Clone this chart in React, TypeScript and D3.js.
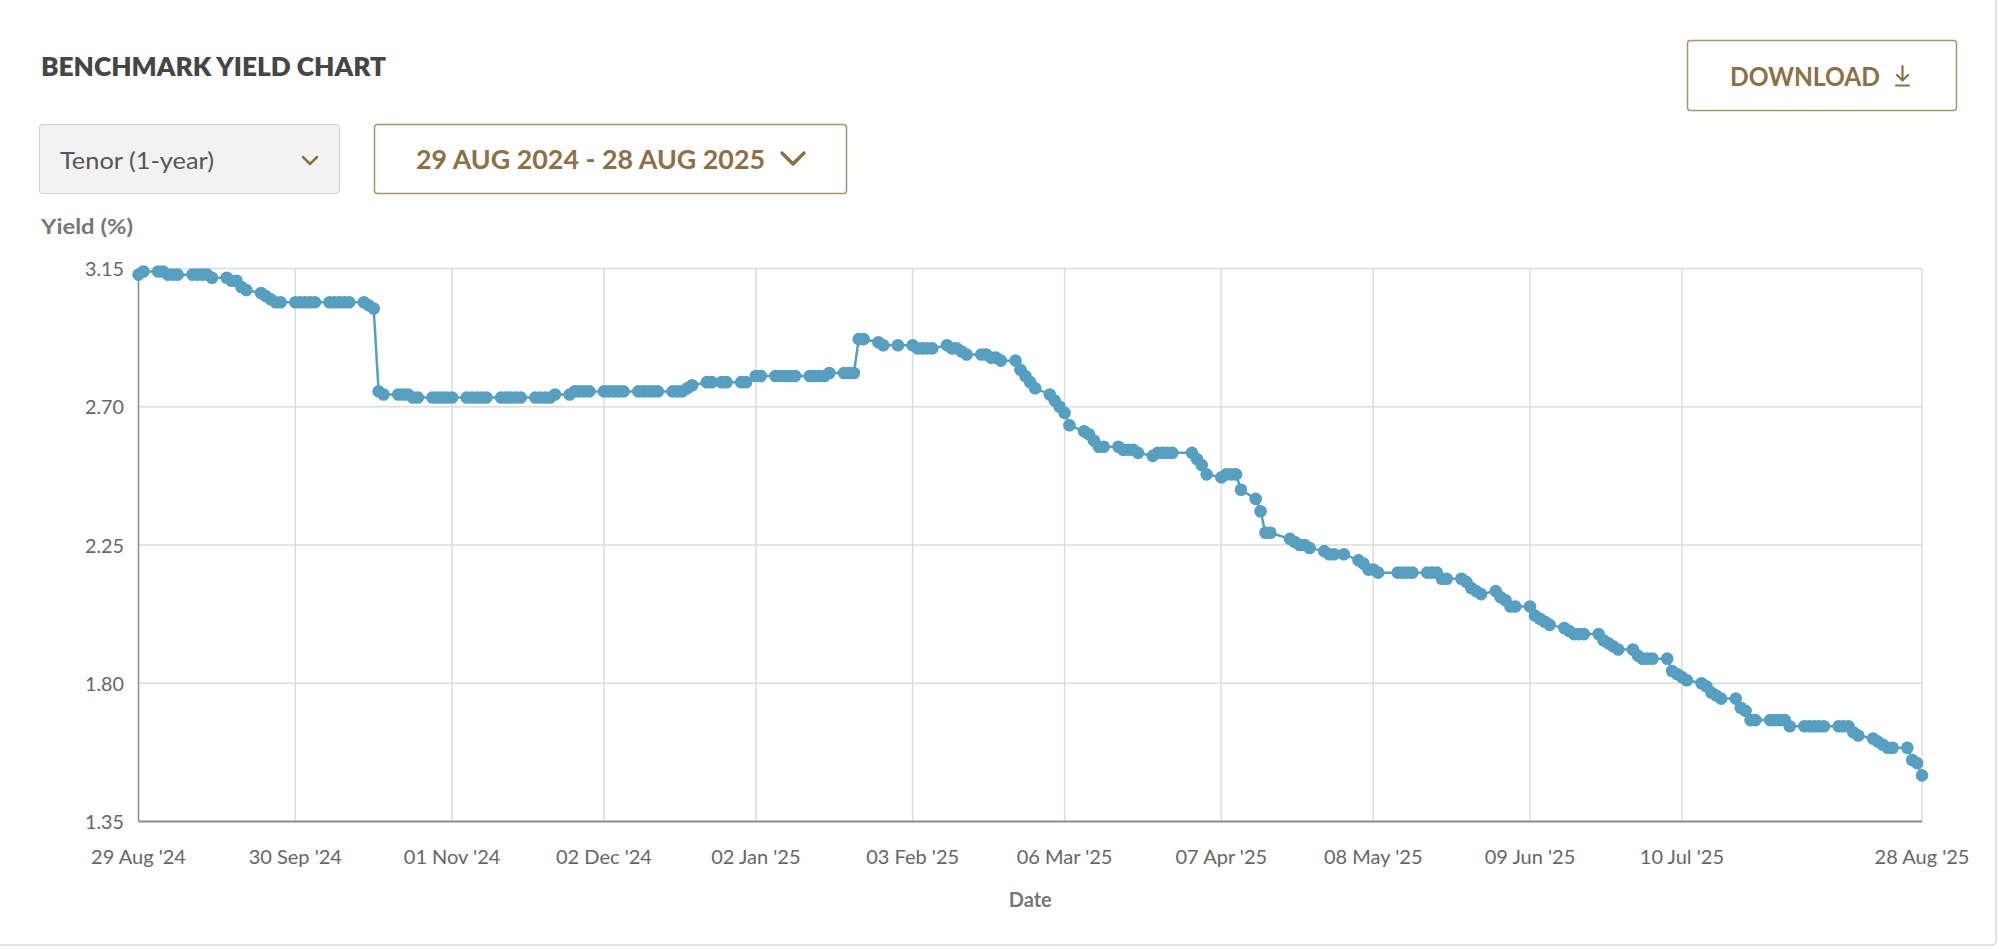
import React, { useRef, useEffect } from 'react';
import * as d3 from 'd3';

// Monday of each week, and that week's Mon..Fri yields (null = no fixing)
const weekStarts = [
  '2024-08-26', '2024-09-02', '2024-09-09', '2024-09-16', '2024-09-23', '2024-09-30',
  '2024-10-07', '2024-10-14', '2024-10-21', '2024-10-28', '2024-11-04', '2024-11-11',
  '2024-11-18', '2024-11-25', '2024-12-02', '2024-12-09', '2024-12-16', '2024-12-23',
  '2024-12-30', '2025-01-06', '2025-01-13', '2025-01-20', '2025-01-27', '2025-02-03',
  '2025-02-10', '2025-02-17', '2025-02-24', '2025-03-03', '2025-03-10', '2025-03-17',
  '2025-03-24', '2025-03-31', '2025-04-07', '2025-04-14', '2025-04-21', '2025-04-28',
  '2025-05-05', '2025-05-12', '2025-05-19', '2025-05-26', '2025-06-02', '2025-06-09',
  '2025-06-16', '2025-06-23', '2025-06-30', '2025-07-07', '2025-07-14', '2025-07-21',
  '2025-07-28', '2025-08-04', '2025-08-11', '2025-08-18', '2025-08-25',
];

const weeklyYields: (number | null)[][] = [
  [null, null, null, 3.13, 3.14],
  [3.14, 3.14, 3.13, 3.13, 3.13],
  [3.13, 3.13, 3.13, 3.13, 3.12],
  [3.12, 3.11, 3.11, 3.09, 3.08],
  [3.07, 3.06, 3.05, 3.04, 3.04],
  [3.04, 3.04, 3.04, 3.04, 3.04],
  [3.04, 3.04, 3.04, 3.04, 3.04],
  [3.04, 3.03, 3.02, 2.75, 2.74],
  [2.74, 2.74, 2.74, 2.73, 2.73],
  [2.73, 2.73, 2.73, 2.73, 2.73],
  [2.73, 2.73, 2.73, 2.73, 2.73],
  [2.73, 2.73, 2.73, 2.73, 2.73],
  [2.73, 2.73, 2.73, 2.73, 2.74],
  [2.74, 2.75, 2.75, 2.75, 2.75],
  [2.75, 2.75, 2.75, 2.75, 2.75],
  [2.75, 2.75, 2.75, 2.75, 2.75],
  [2.75, 2.75, 2.75, 2.76, 2.77],
  [2.78, 2.78, null, 2.78, 2.78],
  [2.78, 2.78, null, 2.80, 2.80],
  [2.80, 2.80, 2.80, 2.80, 2.80],
  [2.80, 2.80, 2.80, 2.80, 2.81],
  [2.81, 2.81, 2.81, 2.92, 2.92],
  [2.91, 2.90, null, null, 2.90],
  [2.90, 2.89, 2.89, 2.89, 2.89],
  [2.90, 2.89, 2.89, 2.88, 2.87],
  [2.87, 2.87, 2.86, 2.86, 2.85],
  [2.85, 2.82, 2.80, 2.78, 2.76],
  [2.74, 2.72, 2.70, 2.68, 2.64],
  [2.62, 2.61, 2.59, 2.57, 2.57],
  [2.57, 2.56, 2.56, 2.56, 2.55],
  [2.54, 2.55, 2.55, 2.55, 2.55],
  [null, 2.55, 2.53, 2.51, 2.48],
  [2.47, 2.48, 2.48, 2.48, 2.43],
  [2.40, 2.36, 2.29, 2.29, null],
  [2.27, 2.26, 2.25, 2.25, 2.24],
  [2.23, 2.22, 2.22, null, 2.22],
  [2.20, 2.19, 2.17, 2.17, 2.16],
  [null, 2.16, 2.16, 2.16, 2.16],
  [2.16, 2.16, 2.16, 2.14, 2.14],
  [2.14, 2.13, 2.11, 2.10, 2.09],
  [2.10, 2.08, 2.07, 2.05, 2.05],
  [2.05, 2.02, 2.01, 2.00, 1.99],
  [1.98, 1.97, 1.96, 1.96, 1.96],
  [1.96, 1.94, 1.93, 1.92, 1.91],
  [1.91, 1.89, 1.88, 1.88, 1.88],
  [1.88, 1.84, 1.83, 1.82, 1.81],
  [1.80, 1.79, 1.77, 1.76, 1.75],
  [1.75, 1.72, 1.71, 1.68, 1.68],
  [1.68, 1.68, 1.68, 1.68, 1.66],
  [1.66, 1.66, 1.66, 1.66, 1.66],
  [1.66, 1.66, 1.66, 1.64, 1.63],
  [1.62, 1.61, 1.60, 1.59, 1.59],
  [1.59, 1.55, 1.54, 1.50, null],
];

const xTickDates = [
  '2024-08-29', '2024-09-30', '2024-11-01', '2024-12-02', '2025-01-02', '2025-02-03',
  '2025-03-06', '2025-04-07', '2025-05-08', '2025-06-09', '2025-07-10', '2025-08-28',
];
const yTicks = [1.35, 1.8, 2.25, 2.7, 3.15];

const dateRangeLabel = '29 AUG 2024 - 28 AUG 2025';
const tenorLabel = 'Tenor (1-year)';

const FONT = 'Lato, "Source Sans Pro", sans-serif';
const BROWN = '#8b7048';
const BLUE = '#569fc0';

export default function App() {
  const width = 1999;
  const height = 949;
  const svgRef = useRef<SVGSVGElement>(null);

  useEffect(() => {
    if (!svgRef.current) return;
    const svg = d3.select(svgRef.current);
    svg.selectAll('*').remove();

    const parse = d3.timeParse('%Y-%m-%d');
    const points: { date: Date; value: number }[] = [];
    weekStarts.forEach((w, i) => {
      const monday = parse(w) as Date;
      weeklyYields[i].forEach((v, j) => {
        if (v != null) points.push({ date: d3.timeDay.offset(monday, j), value: v });
      });
    });
    const ticks = xTickDates.map((d) => parse(d) as Date);

    const left = 138.5, right = 1922, top = 268.5, bottom = 821.5;
    const x = d3.scaleTime().domain([ticks[0], ticks[ticks.length - 1]]).range([left, right]);
    const y = d3.scaleLinear().domain([1.35, 3.15]).range([bottom, top]);

    // card border
    svg.append('rect')
      .attr('x', -10).attr('y', -10).attr('width', 2006).attr('height', 955)
      .attr('rx', 4).attr('fill', 'white').attr('stroke', '#e3e3e3').attr('stroke-width', 2);

    // header
    svg.append('text')
      .attr('x', 41).attr('y', 76)
      .attr('font-family', FONT).attr('font-weight', 800).attr('font-size', 26.5)
      .attr('fill', '#454545')
      .attr('textLength', 345).attr('lengthAdjust', 'spacingAndGlyphs')
      .text('BENCHMARK YIELD CHART');

    // tenor select
    svg.append('rect')
      .attr('x', 39.5).attr('y', 124.5).attr('width', 300).attr('height', 69)
      .attr('rx', 3).attr('fill', '#f2f2f2').attr('stroke', '#cfcfcf');
    svg.append('text')
      .attr('x', 60).attr('y', 169)
      .attr('font-family', FONT).attr('font-size', 24).attr('fill', '#555')
      .attr('textLength', 154).attr('lengthAdjust', 'spacingAndGlyphs')
      .text(tenorLabel);
    svg.append('path')
      .attr('d', 'M303,157 L310,164 L317,157')
      .attr('fill', 'none').attr('stroke', BROWN).attr('stroke-width', 2.5)
      .attr('stroke-linecap', 'round').attr('stroke-linejoin', 'round');

    // date range select
    svg.append('rect')
      .attr('x', 374.5).attr('y', 124.5).attr('width', 472).attr('height', 69)
      .attr('rx', 3).attr('fill', 'white').attr('stroke', '#a8946f').attr('stroke-width', 1.5);
    svg.append('text')
      .attr('x', 416).attr('y', 169)
      .attr('font-family', FONT).attr('font-weight', 700).attr('font-size', 26.5)
      .attr('fill', BROWN)
      .attr('textLength', 349).attr('lengthAdjust', 'spacingAndGlyphs')
      .text(dateRangeLabel);
    svg.append('path')
      .attr('d', 'M782,153 L793,164 L804,153')
      .attr('fill', 'none').attr('stroke', BROWN).attr('stroke-width', 3.5)
      .attr('stroke-linecap', 'round').attr('stroke-linejoin', 'round');

    // download button
    svg.append('rect')
      .attr('x', 1687.5).attr('y', 40.5).attr('width', 269).attr('height', 70)
      .attr('rx', 3).attr('fill', 'white').attr('stroke', '#a8946f').attr('stroke-width', 1.5);
    svg.append('text')
      .attr('x', 1730).attr('y', 86)
      .attr('font-family', FONT).attr('font-weight', 700).attr('font-size', 26.5)
      .attr('fill', BROWN)
      .attr('textLength', 150).attr('lengthAdjust', 'spacingAndGlyphs')
      .text('DOWNLOAD');
    svg.append('path')
      .attr('d', 'M1902.5,66 L1902.5,80 M1897,75 L1902.5,80.5 L1908,75 M1896,85.5 L1909,85.5')
      .attr('fill', 'none').attr('stroke', BROWN).attr('stroke-width', 2.2)
      .attr('stroke-linecap', 'round').attr('stroke-linejoin', 'round');

    // grid
    const grid = svg.append('g');
    grid.selectAll('line.v')
      .data(ticks.slice(1))
      .enter().append('line')
      .attr('x1', (d) => x(d)).attr('x2', (d) => x(d))
      .attr('y1', top).attr('y2', bottom)
      .attr('stroke', '#dcdcdc').attr('stroke-width', 1.5);
    grid.selectAll('line.h')
      .data(yTicks.slice(1))
      .enter().append('line')
      .attr('x1', left).attr('x2', right)
      .attr('y1', (d) => y(d)).attr('y2', (d) => y(d))
      .attr('stroke', '#dcdcdc').attr('stroke-width', 1.5);

    // axes lines
    svg.append('line')
      .attr('x1', left).attr('x2', left).attr('y1', top).attr('y2', bottom)
      .attr('stroke', '#8c8c8c').attr('stroke-width', 1.5);
    svg.append('line')
      .attr('x1', left).attr('x2', right).attr('y1', bottom).attr('y2', bottom)
      .attr('stroke', '#8c8c8c').attr('stroke-width', 2);

    // tick labels
    svg.append('g').selectAll('text')
      .data(yTicks)
      .enter().append('text')
      .attr('x', 124).attr('y', (d) => y(d) + 7.5)
      .attr('text-anchor', 'end')
      .attr('font-family', FONT).attr('font-size', 20).attr('fill', '#666')
      .attr('textLength', 39).attr('lengthAdjust', 'spacingAndGlyphs')
      .text((d) => d3.format('.2f')(d));

    const fmt = d3.timeFormat("%d %b '%y");
    svg.append('g').selectAll('text')
      .data(ticks)
      .enter().append('text')
      .attr('x', (d) => x(d)).attr('y', 864)
      .attr('text-anchor', 'middle')
      .attr('font-family', FONT).attr('font-size', 20).attr('fill', '#666')
      .text((d) => fmt(d));

    // axis titles
    svg.append('text')
      .attr('x', 41).attr('y', 234)
      .attr('font-family', FONT).attr('font-weight', 700).attr('font-size', 20)
      .attr('fill', '#777')
      .attr('textLength', 92).attr('lengthAdjust', 'spacingAndGlyphs')
      .text('Yield (%)');
    svg.append('text')
      .attr('x', (left + right) / 2).attr('y', 907)
      .attr('text-anchor', 'middle')
      .attr('font-family', FONT).attr('font-weight', 700).attr('font-size', 20)
      .attr('fill', '#777')
      .text('Date');

    // series
    const line = d3.line<{ date: Date; value: number }>()
      .x((d) => x(d.date))
      .y((d) => y(d.value));
    svg.append('path')
      .datum(points)
      .attr('d', line)
      .attr('fill', 'none').attr('stroke', BLUE).attr('stroke-width', 2.5);
    svg.append('g').selectAll('circle')
      .data(points)
      .enter().append('circle')
      .attr('cx', (d) => x(d.date)).attr('cy', (d) => y(d.value))
      .attr('r', 6.3).attr('fill', BLUE);
  }, []);

  return (
    <svg
      ref={svgRef}
      width={width}
      height={height}
      style={{ position: 'absolute', left: 0, top: 0, display: 'block' }}
    />
  );
}
